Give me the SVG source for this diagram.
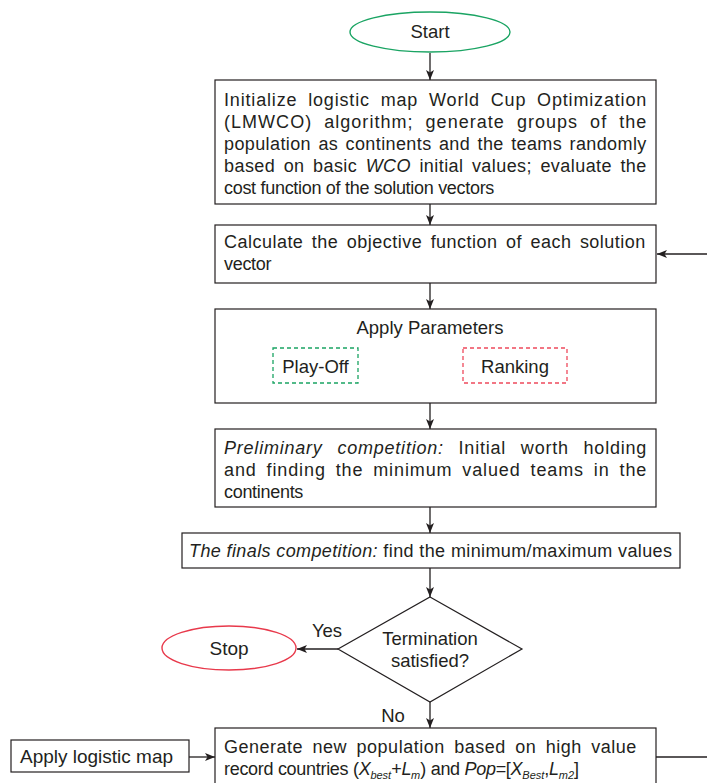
<svg xmlns="http://www.w3.org/2000/svg" width="707" height="783" viewBox="0 0 707 783">
<defs>
<marker id="ah" viewBox="0 0 10 8" refX="10" refY="4" markerWidth="10" markerHeight="8" markerUnits="userSpaceOnUse" orient="auto">
<path d="M0,0 L10,4 L0,8 L2.5,4 Z" fill="#231f20"/>
</marker>
<style>
text{font-family:"Liberation Sans",Arial,sans-serif;font-size:18px;letter-spacing:-0.3px;fill:#231f20}
.lb{font-size:18.5px;letter-spacing:0}
.c{text-anchor:middle}
.box{fill:#fff;stroke:#231f20;stroke-width:1.2}
.con{stroke:#231f20;stroke-width:1.3;fill:none}
.arr{marker-end:url(#ah)}
.i{font-style:italic}
.sub{font-size:11px;font-style:italic;letter-spacing:0}
</style>
</defs>
<rect width="707" height="783" fill="#fff"/>

<g id="connectors">
<line class="con arr" x1="430" y1="53" x2="430" y2="80"/>
<line class="con arr" x1="430" y1="204" x2="430" y2="225"/>
<line class="con arr" x1="430" y1="283" x2="430" y2="309"/>
<line class="con arr" x1="430" y1="403" x2="430" y2="429"/>
<line class="con arr" x1="430" y1="507" x2="430" y2="533"/>
<line class="con arr" x1="430" y1="568" x2="430" y2="597"/>
<line class="con arr" x1="338" y1="649" x2="297" y2="649"/>
<line class="con arr" x1="430" y1="702" x2="430" y2="728"/>
<line class="con arr" x1="189" y1="757" x2="215" y2="757"/>
<line class="con" x1="656" y1="757" x2="707" y2="757"/>
<line class="con arr" x1="707" y1="254" x2="657" y2="254"/>
<text class="c lb" x="327" y="637">Yes</text>
<text class="c lb" x="393" y="722">No</text>
</g>

<g id="start">
<ellipse cx="430" cy="32" rx="80" ry="20" fill="#fff" stroke="#1aa463" stroke-width="1.4"/>
<text class="c lb" x="430" y="38">Start</text>
</g>

<g id="init">
<rect class="box" x="215" y="80" width="441" height="124"/>
<text x="224" y="106" word-spacing="5" textLength="422" lengthAdjust="spacing">Initialize logistic map World Cup Optimization</text>
<text x="224" y="128" word-spacing="6" textLength="422" lengthAdjust="spacing">(LMWCO) algorithm; generate groups of the</text>
<text x="224" y="150" word-spacing="2" textLength="422" lengthAdjust="spacing">population as continents and the teams randomly</text>
<text x="224" y="172" word-spacing="3" textLength="422" lengthAdjust="spacing">based on basic <tspan class="i">WCO</tspan> initial values; evaluate the</text>
<text x="224" y="194">cost function of the solution vectors</text>
</g>

<g id="objective">
<rect class="box" x="215" y="225" width="441" height="58"/>
<text x="224" y="248" word-spacing="3" textLength="421" lengthAdjust="spacing">Calculate the objective function of each solution</text>
<text x="224" y="270">vector</text>
</g>

<g id="parameters">
<rect class="box" x="215" y="309" width="441" height="94"/>
<text class="c lb" x="430" y="334">Apply Parameters</text>
<g id="playoff">
<rect x="273" y="348" width="85" height="35" fill="none" stroke="#1aa463" stroke-width="1.3" stroke-dasharray="4,3"/>
<text class="c lb" x="315.5" y="373">Play-Off</text>
</g>
<g id="ranking">
<rect x="463" y="348" width="104" height="35" fill="none" stroke="#ee4a5c" stroke-width="1.3" stroke-dasharray="4,3"/>
<text class="c lb" x="515" y="373">Ranking</text>
</g>
</g>

<g id="preliminary">
<rect class="box" x="215" y="429" width="441" height="78"/>
<text x="224" y="454" word-spacing="9" textLength="422" lengthAdjust="spacing"><tspan class="i">Preliminary competition:</tspan> Initial worth holding</text>
<text x="224" y="476" word-spacing="4" textLength="422" lengthAdjust="spacing">and finding the minimum valued teams in the</text>
<text x="224" y="498">continents</text>
</g>

<g id="finals">
<rect class="box" x="182" y="533" width="498" height="35"/>
<text x="189" y="557" style="letter-spacing:0" textLength="483" lengthAdjust="spacing"><tspan class="i">The finals competition:</tspan> find the minimum/maximum values</text>
</g>

<g id="termination">
<polygon points="430,597 522,649 430,702 338,649" fill="#fff" stroke="#231f20" stroke-width="1.2"/>
<text class="c lb" x="430" y="645">Termination</text>
<text class="c lb" x="430" y="667">satisfied?</text>
</g>

<g id="stop">
<ellipse cx="229" cy="648" rx="67" ry="22" fill="#fff" stroke="#e8394b" stroke-width="1.4"/>
<text class="c lb" x="229" y="655" style="font-size:19px">Stop</text>
</g>

<g id="logistic">
<rect class="box" x="11" y="740" width="178" height="32"/>
<text x="20" y="763" style="font-size:19px;letter-spacing:0" textLength="153" lengthAdjust="spacingAndGlyphs">Apply logistic map</text>
</g>

<g id="generate">
<rect class="box" x="215" y="728" width="441" height="70"/>
<text x="224" y="753" word-spacing="4" textLength="412" lengthAdjust="spacing">Generate new population based on high value</text>
<text x="224" y="775">record countries (<tspan class="i">X</tspan><tspan class="sub" dy="4">best</tspan><tspan dy="-4">+</tspan><tspan class="i">L</tspan><tspan class="sub" dy="4">m</tspan><tspan dy="-4">) and </tspan><tspan class="i">Pop</tspan>=[<tspan class="i">X</tspan><tspan class="sub" dy="4">Best</tspan><tspan dy="-4">,</tspan><tspan class="i">L</tspan><tspan class="sub" dy="4">m2</tspan><tspan dy="-4">]</tspan></text>
</g>
</svg>
